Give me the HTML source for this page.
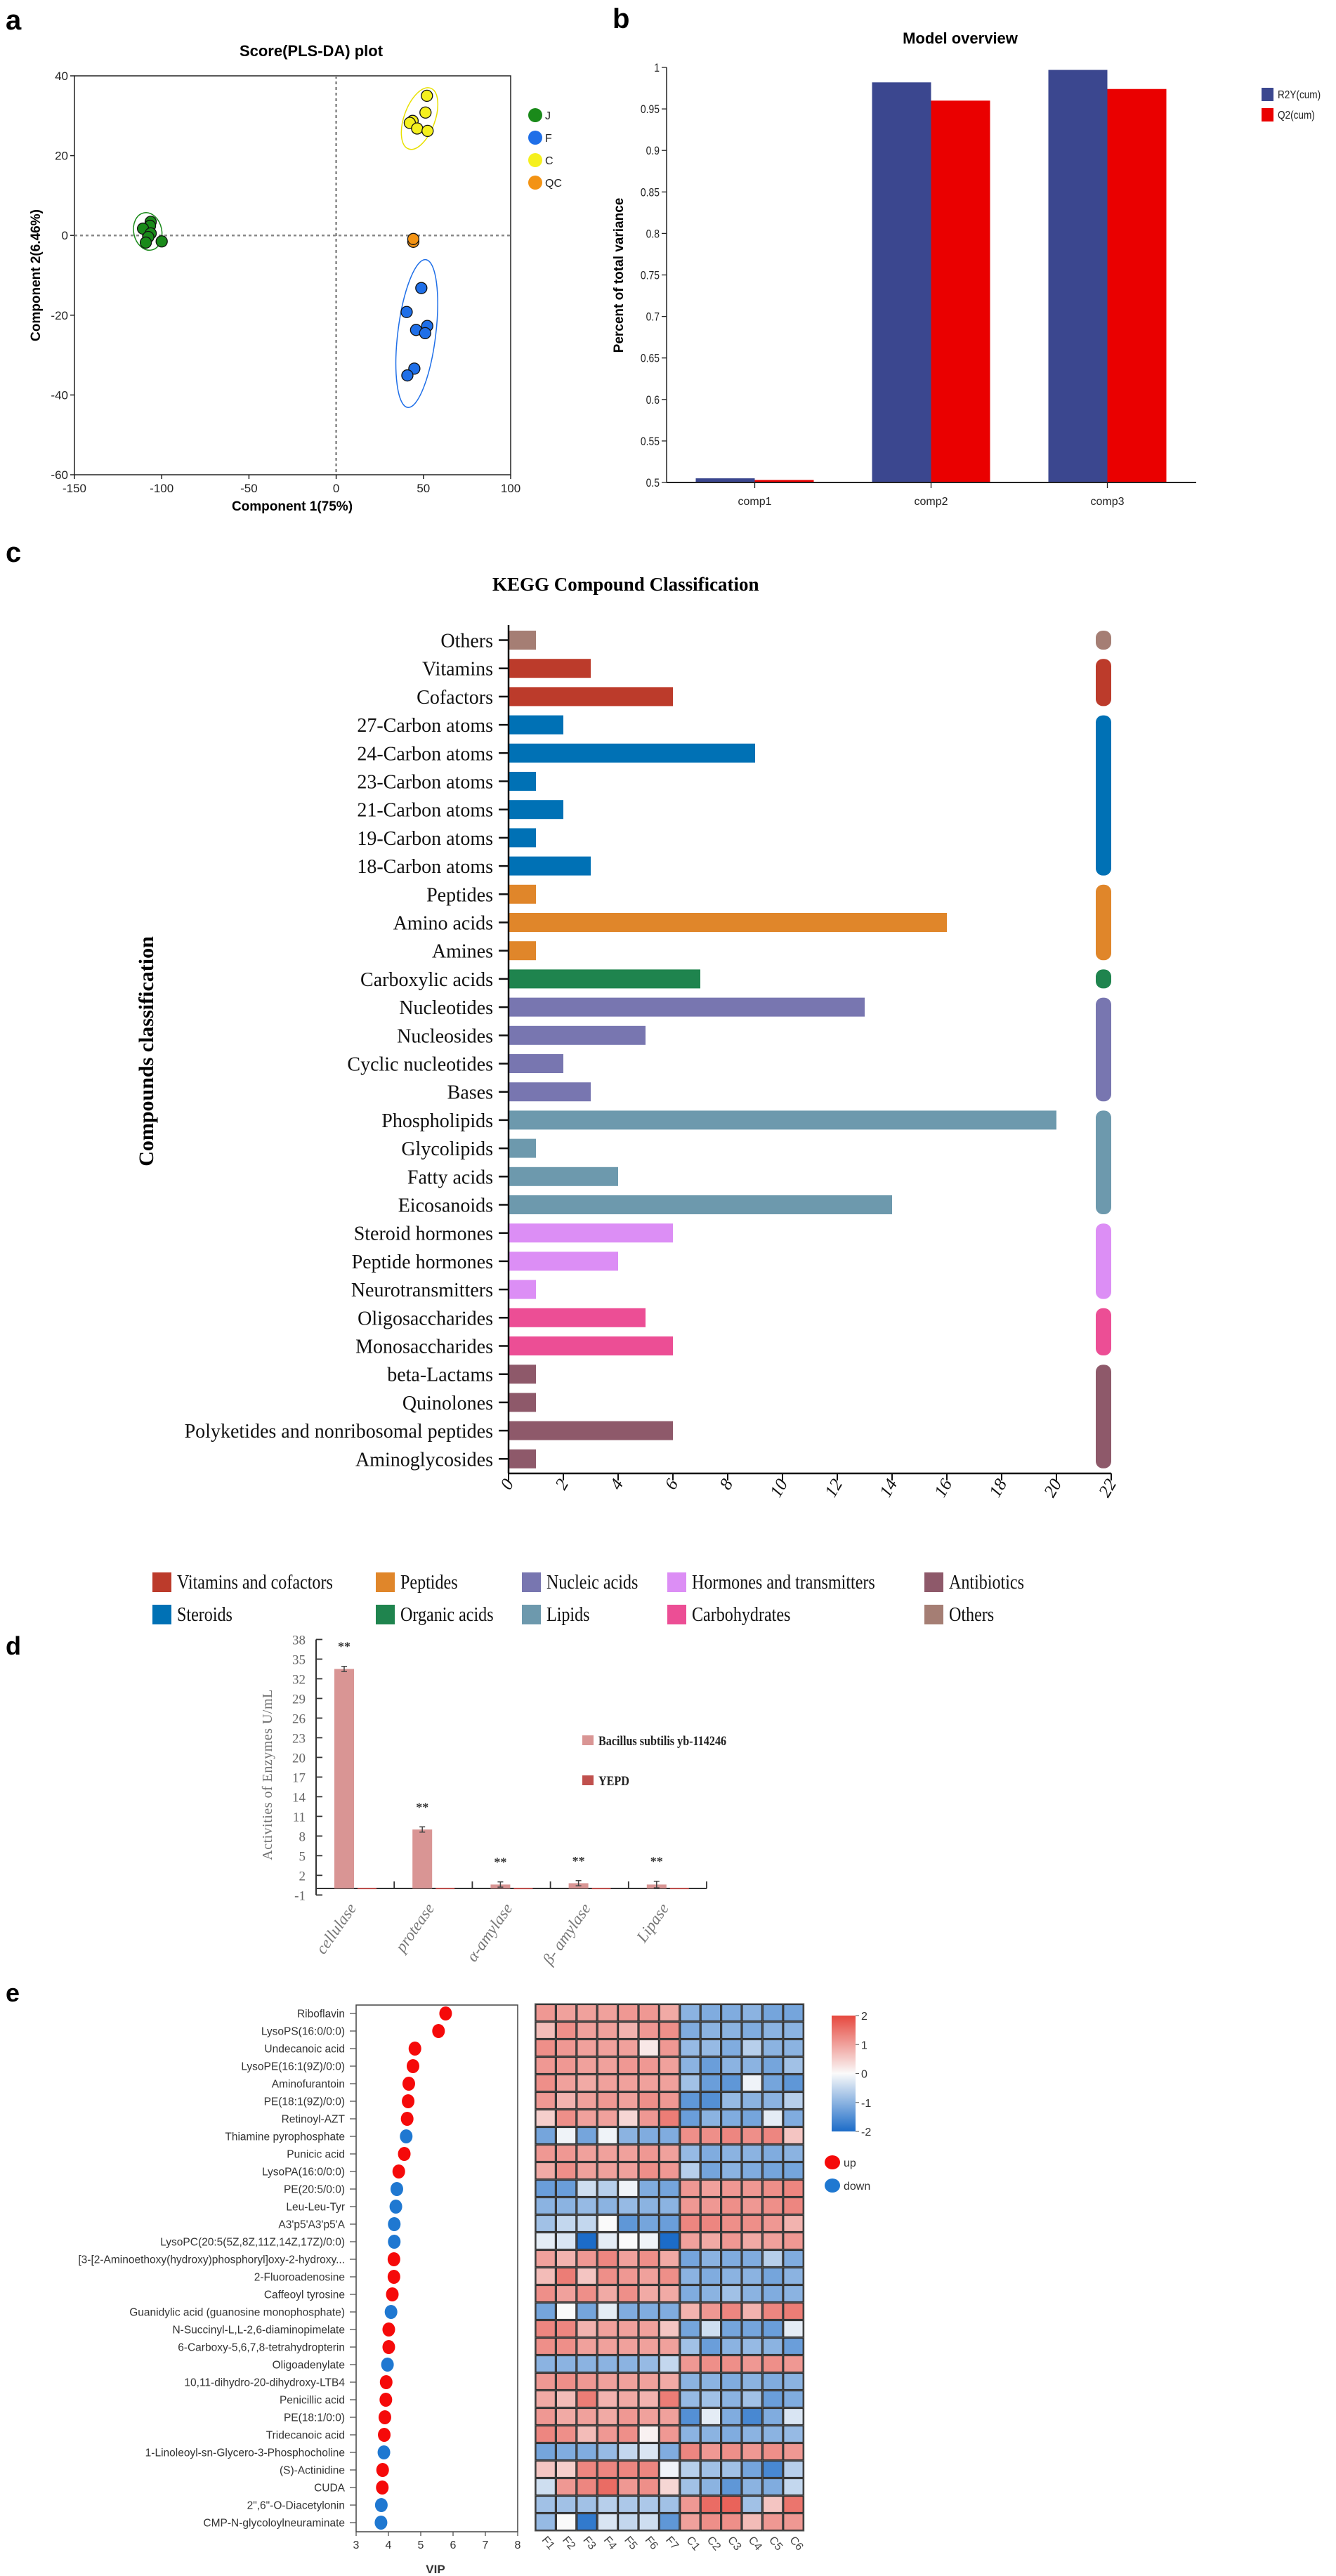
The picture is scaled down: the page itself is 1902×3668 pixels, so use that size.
<!DOCTYPE html>
<html>
<head>
<meta charset="utf-8">
<style>
html,body{margin:0;padding:0;background:#fff;}
svg{display:block;}
.sans{font-family:"Liberation Sans",Arial,sans-serif;}
.serif{font-family:"Liberation Serif","Times New Roman",serif;}
</style>
</head>
<body>
<svg id="fig" width="1902" height="3668" viewBox="0 0 1902 3668" xmlns="http://www.w3.org/2000/svg">
  <rect x="0" y="0" width="1902" height="3668" fill="#fff"/>

  <!-- Panel a -->
  <g id="pa" class="sans">
    <text x="8" y="42" font-size="40" font-weight="bold">a</text>
    <text x="443" y="80" font-size="22" font-weight="bold" text-anchor="middle">Score(PLS-DA) plot</text>
    <text x="416" y="727" font-size="19" font-weight="bold" text-anchor="middle">Component 1(75%)</text>
    <text transform="translate(57,392) rotate(-90)" font-size="19" font-weight="bold" text-anchor="middle">Component 2(6.46%)</text>
  </g>

  <!-- Panel b -->
  <g id="pb" class="sans">
    <text x="872" y="40" font-size="40" font-weight="bold">b</text>
    <text x="1367" y="62" font-size="22" font-weight="bold" text-anchor="middle">Model overview</text>
    <text transform="translate(887,392) rotate(-90)" font-size="19" font-weight="bold" text-anchor="middle">Percent of total variance</text>
  </g>

  <!-- Panel c -->
  <g id="pc" class="serif">
    <text x="8" y="800" font-size="40" font-weight="bold" class="sans">c</text>
    <text x="701" y="841" font-size="27" font-weight="bold">KEGG Compound Classification</text>
    <text transform="translate(218,1497) rotate(-90)" font-size="30" font-weight="bold" text-anchor="middle">Compounds classification</text>
  </g>

  <!-- Panel d -->
  <g id="pd" class="serif">
    <text x="8" y="2356" font-size="36" font-weight="bold" class="sans">d</text>
    <text transform="translate(387,2527) rotate(-90)" font-size="20" fill="#707070" text-anchor="middle" letter-spacing="0.5">Activities of Enzymes U/mL</text>
  </g>

  <!-- Panel e -->
  <g id="pe" class="sans">
    <text x="8" y="2850" font-size="36" font-weight="bold">e</text>
    <text x="620" y="3664" font-size="17" font-weight="bold" text-anchor="middle" fill="#333">VIP</text>
  </g>
</svg>

<script>
// ---------- Panel a data ----------
const pcaGroups = ['J','F','C','QC'];
const pcaColors = ['#1a8a1a','#1f6fe8','#f5f01e','#f39314'];
const jX = [-106.3,-106.7,-110.7,-106.3,-107.7,-109.1,-100.0];
const jY = [3.4,2.4,1.7,0.5,-0.4,-1.8,-1.5];
const fX = [48.8,40.4,45.8,52.2,51.0,44.8,40.8];
const fY = [-13.2,-19.2,-23.7,-22.7,-24.5,-33.4,-35.1];
const cX = [52.0,51.2,43.8,42.2,46.4,52.4];
const cY = [35.0,30.8,28.7,28.2,26.8,26.2];
const qcX = [44.2,44.2];
const qcY = [-1.6,-0.9];
const pcaXTicks = [-150,-100,-50,0,50,100];
const pcaYTicks = [40,20,0,-20,-40,-60];

// ---------- Panel b data ----------
const compCats = ['comp1','comp2','comp3'];
const r2yVals = [0.505,0.982,0.997];
const q2Vals = [0.503,0.960,0.974];
const bTicks = [0.5,0.55,0.6,0.65,0.7,0.75,0.8,0.85,0.9,0.95,1];

// ---------- Panel c data ----------
const keggCats = ['Others','Vitamins','Cofactors','27-Carbon atoms','24-Carbon atoms','23-Carbon atoms','21-Carbon atoms','19-Carbon atoms','18-Carbon atoms','Peptides','Amino acids','Amines','Carboxylic acids','Nucleotides','Nucleosides','Cyclic nucleotides','Bases','Phospholipids','Glycolipids','Fatty acids','Eicosanoids','Steroid hormones','Peptide hormones','Neurotransmitters','Oligosaccharides','Monosaccharides','beta-Lactams','Quinolones','Polyketides and nonribosomal peptides','Aminoglycosides'];
const keggVals = [1,3,6,2,9,1,2,1,3,1,16,1,7,13,5,2,3,20,1,4,14,6,4,1,5,6,1,1,6,1];
const keggGroupOf = [10,0,0,5,5,5,5,5,5,1,1,1,6,2,2,2,2,7,7,7,7,3,3,3,8,8,4,4,4,4];
const keggGroupNames = ['Vitamins and cofactors','Peptides','Nucleic acids','Hormones and transmitters','Antibiotics','Steroids','Organic acids','Lipids','Carbohydrates','','Others'];
const keggGroupColors = ['#bc3b2b','#e0862a','#7876b0','#dc8ef5','#8e596a','#0071b5','#1f844e','#6d99ad','#ec4e95','#000','#a57e74'];
const keggTicks = [0,2,4,6,8,10,12,14,16,18,20,22];

// ---------- Panel d data ----------
const enzCats = ['cellulase','protease','α-amylase','β- amylase','Lipase'];
const bacVals = [33.5,9.0,0.6,0.8,0.6];
const bacErr = [0.4,0.4,0.4,0.4,0.5];
const yepdVals = [0.1,0.1,0.1,0.1,0.1];
const dTicks = [-1,2,5,8,11,14,17,20,23,26,29,32,35,38];

// ---------- Panel e data ----------
const metNames = ['Riboflavin','LysoPS(16:0/0:0)','Undecanoic acid','LysoPE(16:1(9Z)/0:0)','Aminofurantoin','PE(18:1(9Z)/0:0)','Retinoyl-AZT','Thiamine pyrophosphate','Punicic acid','LysoPA(16:0/0:0)','PE(20:5/0:0)','Leu-Leu-Tyr',"A3'p5'A3'p5'A",'LysoPC(20:5(5Z,8Z,11Z,14Z,17Z)/0:0)','[3-[2-Aminoethoxy(hydroxy)phosphoryl]oxy-2-hydroxy...','2-Fluoroadenosine','Caffeoyl tyrosine','Guanidylic acid (guanosine monophosphate)','N-Succinyl-L,L-2,6-diaminopimelate','6-Carboxy-5,6,7,8-tetrahydropterin','Oligoadenylate','10,11-dihydro-20-dihydroxy-LTB4','Penicillic acid','PE(18:1/0:0)','Tridecanoic acid','1-Linoleoyl-sn-Glycero-3-Phosphocholine','(S)-Actinidine','CUDA','2",6"-O-Diacetylonin','CMP-N-glycoloylneuraminate'];
const vipVals = [5.77,5.55,4.82,4.76,4.63,4.61,4.58,4.55,4.49,4.32,4.26,4.23,4.18,4.18,4.17,4.17,4.12,4.08,4.01,4.01,3.97,3.93,3.92,3.89,3.87,3.86,3.82,3.81,3.78,3.77];
const regDir = ['up','up','up','up','up','up','up','down','up','up','down','down','down','down','up','up','up','down','up','up','down','up','up','up','up','down','up','up','down','down'];
const vipTicks = [3,4,5,6,7,8];
const sampleNames = ['F1','F2','F3','F4','F5','F6','F7','C1','C2','C3','C4','C5','C6'];
const heatVals = [
[1.1,1.0,1.0,1.0,1.1,1.1,0.9,-1.0,-1.1,-1.1,-1.0,-1.2,-1.2],
[0.7,1.2,1.0,1.0,0.8,1.1,1.2,-1.1,-1.0,-1.0,-1.1,-1.0,-1.0],
[1.2,1.1,1.0,1.0,1.0,0.2,1.1,-0.9,-0.9,-1.1,-0.6,-1.0,-1.0],
[1.1,1.1,1.0,1.0,1.1,1.1,1.0,-1.0,-1.3,-1.0,-1.0,-1.2,-0.8],
[1.2,1.0,0.9,1.0,1.0,1.0,1.0,-0.8,-1.3,-1.4,-0.1,-1.2,-1.4],
[1.1,0.8,1.0,1.1,1.0,1.2,1.1,-1.4,-1.5,-0.9,-1.0,-1.0,-0.6],
[0.5,1.2,1.0,1.0,0.4,1.1,1.4,-1.3,-1.0,-1.1,-1.2,-0.2,-1.1],
[-1.2,-0.1,-1.2,-0.1,-1.0,-1.1,-1.1,1.2,1.2,1.3,1.2,1.3,0.6],
[1.1,1.1,1.0,1.0,1.0,1.1,1.0,-0.9,-1.1,-1.0,-1.0,-1.1,-1.0],
[0.9,1.2,1.0,1.0,1.0,1.2,1.1,-0.6,-1.2,-1.0,-1.1,-1.2,-1.2],
[-1.3,-1.3,-0.4,-0.6,-0.1,-1.1,-1.2,1.1,1.0,1.1,1.1,1.2,1.3],
[-1.0,-1.0,-0.9,-1.0,-0.9,-1.0,-1.0,1.1,1.1,1.2,1.1,1.2,1.3],
[-0.8,-0.5,-0.5,0.0,-1.4,-1.2,-1.3,1.3,1.3,1.2,1.2,1.1,0.8],
[-0.2,-0.3,-2.0,-0.2,0.0,-0.1,-2.0,1.0,0.9,1.1,0.9,1.0,1.1],
[1.0,0.8,1.1,1.3,1.0,1.2,0.9,-1.2,-1.0,-1.1,-1.1,-0.6,-1.1],
[0.7,1.4,0.6,1.2,1.1,1.0,1.2,-1.0,-1.1,-1.0,-1.0,-1.2,-1.0],
[1.2,1.0,1.2,0.9,1.2,0.9,0.9,-1.1,-1.0,-0.8,-1.0,-1.1,-1.0],
[-1.2,0.0,-1.2,-0.2,-1.1,-1.1,-1.1,0.8,1.1,1.3,0.8,1.3,1.4],
[1.3,1.3,0.8,1.0,1.0,1.0,0.6,-1.2,-0.4,-1.2,-1.2,-1.3,-0.2],
[1.2,1.2,1.0,1.0,1.0,1.0,1.0,-0.8,-1.3,-1.0,-0.9,-1.0,-1.3],
[-1.0,-1.0,-1.0,-1.0,-1.0,-0.9,-0.5,1.1,1.2,1.2,1.1,1.2,1.1],
[1.1,1.2,1.1,1.0,1.0,1.0,0.9,-1.0,-1.0,-1.1,-1.0,-1.1,-1.0],
[0.9,0.7,1.4,0.8,0.9,0.8,1.4,-0.9,-0.8,-1.0,-0.8,-1.3,-1.1],
[1.1,0.9,1.0,0.9,1.1,1.0,1.0,-1.5,-0.2,-1.1,-1.6,-1.1,-0.3],
[1.3,1.2,0.7,1.1,1.2,0.1,1.1,-1.0,-1.0,-1.1,-1.0,-1.0,-0.9],
[-1.2,-1.1,-1.1,-0.9,-0.5,-0.3,-1.1,1.3,1.1,1.2,1.1,1.2,1.1],
[0.6,0.5,1.3,1.3,1.3,1.3,-0.1,-0.6,-0.8,-0.8,-1.2,-1.6,-0.6],
[-0.4,1.1,1.3,1.6,1.1,1.2,0.4,-0.8,-1.0,-1.4,-1.0,-1.1,-0.5],
[-0.8,-0.8,-0.8,-0.6,-0.7,-0.7,-0.8,1.1,1.6,1.7,-0.8,0.6,1.5],
[-0.9,0.0,-1.8,-0.3,-0.5,-0.4,-1.4,1.0,1.2,1.2,0.7,1.1,1.1]
];
const colorbarTicks = [2,1,0,-1,-2];

const NS = 'http://www.w3.org/2000/svg';
function mk(parent, tag, attrs, text) {
  const el = document.createElementNS(NS, tag);
  for (const k in attrs) el.setAttribute(k, attrs[k]);
  if (text !== undefined) el.textContent = text;
  parent.appendChild(el);
  return el;
}

// ================= Panel a =================
(function(){
  const g = document.getElementById('pa');
  const L=106,R=727,T=108,B=676;
  const sx = v => L + (v + 150) * (R - L) / 250;
  const sy = v => T + (40 - v) * (B - T) / 100;
  let el;
  el = mk(g,'rect',{x:L,y:T,width:R-L,height:B-T,fill:'none',stroke:'#222','stroke-width':1.5});
  
  
  el = mk(g,'line',{x1:sx(0),y1:T,x2:sx(0),y2:B,stroke:'#888','stroke-width':2.5,'stroke-dasharray':'4,4'});
  
  
  el = mk(g,'line',{x1:L,y1:sy(0),x2:R,y2:sy(0),stroke:'#888','stroke-width':2.5,'stroke-dasharray':'4,4'});
  
  
  pcaXTicks.forEach(t=>{
    const tk = mk(g,'line',{x1:sx(t),y1:B,x2:sx(t),y2:B+6,stroke:'#222','stroke-width':1.5});
    
    
    const lb = mk(g,'text',{x:sx(t),y:B+25,'font-size':17,'text-anchor':'middle',fill:'#222'},String(t));
    
    
  });
  pcaYTicks.forEach(t=>{
    const tk = mk(g,'line',{x1:L-6,y1:sy(t),x2:L,y2:sy(t),stroke:'#222','stroke-width':1.5});
    
    
    const lb = mk(g,'text',{x:L-9,y:sy(t)+6,'font-size':17,'text-anchor':'end',fill:'#222'},String(t));
    
    
  });
  // confidence ellipses (center in data units, radii in px)
  const ells = [[-108,1,20,27,-12,'#1a8a1a'],[47.8,29.3,22,46,20,'#e8e000'],[46.2,-24.6,27,106,7,'#1f6fe8']];
  ells.forEach((e,i)=>{
    const cx=sx(e[0]), cy=sy(e[1]);
    const en = mk(g,'ellipse',{cx:cx,cy:cy,rx:e[2],ry:e[3],fill:'none',stroke:e[5],'stroke-width':1.5,transform:`rotate(${e[4]} ${cx} ${cy})`});
    
    
  });
  const sets = [[jX,jY],[fX,fY],[cX,cY],[qcX,qcY]];
  sets.forEach((s,gi)=>{
    s[0].forEach((x,i)=>{
      const c = mk(g,'circle',{cx:sx(x),cy:sy(s[1][i]),r:8,fill:pcaColors[gi],stroke:'#111','stroke-width':1.3});
      
      
    });
  });
  pcaGroups.forEach((n,i)=>{
    const y = 164 + i*32;
    const c = mk(g,'circle',{cx:762,cy:y,r:10,fill:pcaColors[i]});
    
    
    const t = mk(g,'text',{x:776,y:y+6,'font-size':16,fill:'#222'},n);
    
    
  });
})();

// ================= Panel b =================
(function(){
  const g = document.getElementById('pb');
  const L=949,R=1703,T=96,B=687;
  const yB = v => B - (v - 0.5) / 0.5 * (B - T);
  const cx = i => L + 125.5 + i * 251;
  const bw = 84;
  let el;
  bTicks.forEach(t=>{
    const tk = mk(g,'line',{x1:L-7,y1:yB(t),x2:L,y2:yB(t),stroke:'#222','stroke-width':1.3});
    
    
    const lb = mk(g,'text',{x:L-10,y:yB(t)+6,'font-size':17,'text-anchor':'end',fill:'#222',transform:`translate(${L-10},0) scale(0.82,1) translate(${-(L-10)},0)`},String(t));
    
    
  });
  compCats.forEach((c,i)=>{
    const r = mk(g,'rect',{x:cx(i)-bw,y:yB(r2yVals[i]),width:bw,height:B-yB(r2yVals[i]),fill:'#3b478f'});
    
    
    const q = mk(g,'rect',{x:cx(i),y:yB(q2Vals[i]),width:bw,height:B-yB(q2Vals[i]),fill:'#ea0000'});
    
    
    const tk = mk(g,'line',{x1:cx(i),y1:B,x2:cx(i),y2:B+8,stroke:'#222','stroke-width':1.3});
    
    
    const lb = mk(g,'text',{x:cx(i),y:B+32,'font-size':16,'text-anchor':'middle',fill:'#222'},c);
    
    
  });
  el = mk(g,'line',{x1:L,y1:T,x2:L,y2:B,stroke:'#222','stroke-width':1.5});
  
  
  el = mk(g,'line',{x1:L,y1:B,x2:R,y2:B,stroke:'#222','stroke-width':2});
  
  
  const leg = [['R2Y(cum)','#3b478f'],['Q2(cum)','#ea0000']];
  leg.forEach((l,i)=>{
    const y = 125 + i*29;
    const s = mk(g,'rect',{x:1796,y:y,width:17,height:19,fill:l[1]});
    
    
    const t = mk(g,'text',{x:1819,y:y+15,'font-size':16,fill:'#222',transform:`translate(1819,0) scale(0.85,1) translate(-1819,0)`},l[0]);
    
    
  });
})();

// ================= Panel c =================
(function(){
  const g = document.getElementById('pc');
  const L=724, top0=911.5, step=40.2, bh=27, unit=39, axisY=2098;
  const xC = v => L + v * unit;
  const yC = i => top0 + i * step;
  let el;
  keggCats.forEach((c,i)=>{
    const r = mk(g,'rect',{x:L,y:yC(i)-bh/2,width:xC(keggVals[i])-L,height:bh,fill:keggGroupColors[keggGroupOf[i]]});
    
    
    const tk = mk(g,'line',{x1:L-14,y1:yC(i),x2:L,y2:yC(i),stroke:'#111','stroke-width':2.5});
    
    
    const lb = mk(g,'text',{x:L-22,y:yC(i)+10,'font-size':28,'text-anchor':'end',fill:'#111'},c);
    
    
  });
  // group side bars
  let start = 0;
  for (let i=1;i<=keggCats.length;i++){
    if (i===keggCats.length || keggGroupOf[i]!==keggGroupOf[start]){
      const y0 = yC(start)-bh/2, y1 = yC(i-1)+bh/2;
      const sb = mk(g,'rect',{x:1560,y:y0,width:22,height:y1-y0,rx:10,ry:10,fill:keggGroupColors[keggGroupOf[start]]});
      
      
      start = i;
    }
  }
  el = mk(g,'line',{x1:L,y1:890,x2:L,y2:axisY,stroke:'#111','stroke-width':2.5});
  
  
  el = mk(g,'line',{x1:L,y1:axisY,x2:xC(22),y2:axisY,stroke:'#111','stroke-width':2.5});
  
  
  keggTicks.forEach(t=>{
    const tk = mk(g,'line',{x1:xC(t),y1:axisY,x2:xC(t),y2:axisY+10,stroke:'#111','stroke-width':2});
    
    
    const lb = mk(g,'text',{transform:`translate(${xC(t)+8},${axisY+14}) rotate(-60)`,'font-size':25,'font-style':'italic','text-anchor':'end',fill:'#111'},String(t));
    
    
  });
  // legend
  const legCols = [217,535,743,950,1316];
  const legOrder = [[0,1,2,3,4],[5,6,7,8,10]];
  legOrder.forEach((row,ri)=>{
    row.forEach((gi,ci)=>{
      const y = 2239 + ri*46;
      const s = mk(g,'rect',{x:legCols[ci],y:y,width:27,height:28,fill:keggGroupColors[gi]});
      
      
      const t = mk(g,'text',{x:legCols[ci]+35,y:y+23,'font-size':28,fill:'#111',transform:`translate(${legCols[ci]+35},0) scale(0.86,1) translate(${-(legCols[ci]+35)},0)`},keggGroupNames[gi]);
      
      
    });
  });
})();

// ================= Panel d =================
(function(){
  const g = document.getElementById('pd');
  const L=450, R=1006, catW=111.2, zeroY=2689, u=9.33;
  const yD = v => zeroY - v * u;
  let el;
  el = mk(g,'line',{x1:L,y1:yD(38),x2:L,y2:yD(-1),stroke:'#333','stroke-width':2});
  
  
  el = mk(g,'line',{x1:L,y1:zeroY,x2:R,y2:zeroY,stroke:'#333','stroke-width':2});
  
  
  dTicks.forEach(t=>{
    const tk = mk(g,'line',{x1:L,y1:yD(t),x2:L+9,y2:yD(t),stroke:'#333','stroke-width':1.8});
    
    
    const lb = mk(g,'text',{x:L-15,y:yD(t)+7,'font-size':19,'text-anchor':'end',fill:'#666'},String(t));
    
    
  });
  enzCats.forEach((c,i)=>{
    const x0 = L + i*catW;
    const dv = mk(g,'line',{x1:x0+catW,y1:zeroY-10,x2:x0+catW,y2:zeroY,stroke:'#333','stroke-width':1.8});
    
    
    const b = mk(g,'rect',{x:x0+26,y:yD(bacVals[i]),width:28,height:zeroY-yD(bacVals[i]),fill:'#d99594'});
    
    
    const y2 = mk(g,'rect',{x:x0+59,y:yD(yepdVals[i]),width:27,height:Math.max(2,zeroY-yD(yepdVals[i])),fill:'#c0504d'});
    
    
    const ex = x0+40;
    const e1 = mk(g,'path',{d:`M${ex},${yD(bacVals[i]+bacErr[i])}V${yD(bacVals[i]-bacErr[i])}M${ex-4},${yD(bacVals[i]+bacErr[i])}H${ex+4}M${ex-4},${yD(bacVals[i]-bacErr[i])}H${ex+4}`,stroke:'#444','stroke-width':1.5,fill:'none'});
    
    
    const st = mk(g,'text',{x:ex,y:yD(bacVals[i]+bacErr[i])-22,'font-size':18,'text-anchor':'middle',fill:'#333','font-weight':'bold'},'**');
    
    
    const lb = mk(g,'text',{transform:`translate(${x0+58},${zeroY+28}) rotate(-55)`,'font-size':23,'font-style':'italic','text-anchor':'end',fill:'#777'},c);
    
    
  });
  const leg = [['Bacillus subtilis yb-114246','#d99594',2471],['YEPD','#c0504d',2528]];
  leg.forEach(l=>{
    const s = mk(g,'rect',{x:829,y:l[2],width:16,height:14,fill:l[1]});
    
    
    const t = mk(g,'text',{x:852,y:l[2]+14,'font-size':19,fill:'#222','font-weight':'bold',transform:'translate(852,0) scale(0.85,1) translate(-852,0)'},l[0]);
    
    
  });
})();

// ================= Panel e =================
(function(){
  const g = document.getElementById('pe');
  const L=507, R=737, T=2855, B=3605, r0=2867, step=25;
  const xV = v => L + (v - 3) * (R - L) / 5;
  const yV = i => r0 + i * step;
  let el;
  el = mk(g,'rect',{x:L,y:T,width:R-L,height:B-T,fill:'none',stroke:'#444','stroke-width':1.5});
  
  
  metNames.forEach((n,i)=>{
    const tk = mk(g,'line',{x1:L-9,y1:yV(i),x2:L,y2:yV(i),stroke:'#555','stroke-width':1.3});
    
    
    const lb = mk(g,'text',{x:L-16,y:yV(i)+5.5,'font-size':15.5,'text-anchor':'end',fill:'#333'},n);
    
    
    const c = mk(g,'ellipse',{cx:xV(vipVals[i]),cy:yV(i),rx:9,ry:10,fill:regDir[i]==='up'?'#f50a0a':'#1f78d1'});
    
    
  });
  vipTicks.forEach(t=>{
    const tk = mk(g,'line',{x1:xV(t),y1:B,x2:xV(t),y2:B+6,stroke:'#555','stroke-width':1.3});
    
    
    const lb = mk(g,'text',{x:xV(t),y:B+24,'font-size':16,'text-anchor':'middle',fill:'#333'},String(t));
    
    
  });
  // heatmap
  const HL=762, HT=2853.5, cw=29.4, ch=25;
  function heatColor(v){
    v = Math.max(-2, Math.min(2, v));
    const w=[250,250,250], red=[230,72,62], blue=[28,108,200];
    const t = Math.abs(v)/2, e = v>=0?red:blue;
    return `rgb(${Math.round(w[0]+(e[0]-w[0])*t)},${Math.round(w[1]+(e[1]-w[1])*t)},${Math.round(w[2]+(e[2]-w[2])*t)})`;
  }
  el = mk(g,'rect',{x:HL-1,y:HT-1,width:cw*13+2,height:ch*30+2,fill:'#555'});
  
  
  heatVals.forEach((row,i)=>{
    row.forEach((v,j)=>{
      const c = mk(g,'rect',{x:HL+j*cw+1,y:HT+i*ch+1,width:cw-2,height:ch-2,fill:heatColor(v),stroke:'#2e2e2e','stroke-width':1.2});
      
      
    });
  });
  sampleNames.forEach((s,j)=>{
    const lb = mk(g,'text',{transform:`translate(${HL+j*cw+cw/2-6},${3617}) rotate(50)`,'font-size':16,fill:'#444'},s);
    
    
  });
  // colorbar
  const defs = mk(document.getElementById('fig'),'defs',{});
  const grad = mk(defs,'linearGradient',{id:'cbar',x1:0,y1:0,x2:0,y2:1});
  [[0,heatColor(2)],[0.5,heatColor(0)],[1,heatColor(-2)]].forEach(s=>{ mk(grad,'stop',{offset:s[0],'stop-color':s[1]}); });
  el = mk(g,'rect',{x:1184,y:2870,width:34,height:165,fill:'url(#cbar)'});
  
  
  colorbarTicks.forEach((t,i)=>{
    const y = 2870 + i*165/4;
    const tk = mk(g,'line',{x1:1218,y1:y,x2:1223,y2:y,stroke:'#555','stroke-width':1});
    
    
    const lb = mk(g,'text',{x:1226,y:y+6,'font-size':16,fill:'#333'},String(t));
    
    
  });
  [['up','#f50a0a',3079],['down','#1f78d1',3112]].forEach(l=>{
    const c = mk(g,'ellipse',{cx:1185,cy:l[2],rx:11,ry:10,fill:l[1]});
    
    
    const t = mk(g,'text',{x:1201,y:l[2]+6,'font-size':16,fill:'#333'},l[0]);
    
    
  });
})();
</script>
</body>
</html>
